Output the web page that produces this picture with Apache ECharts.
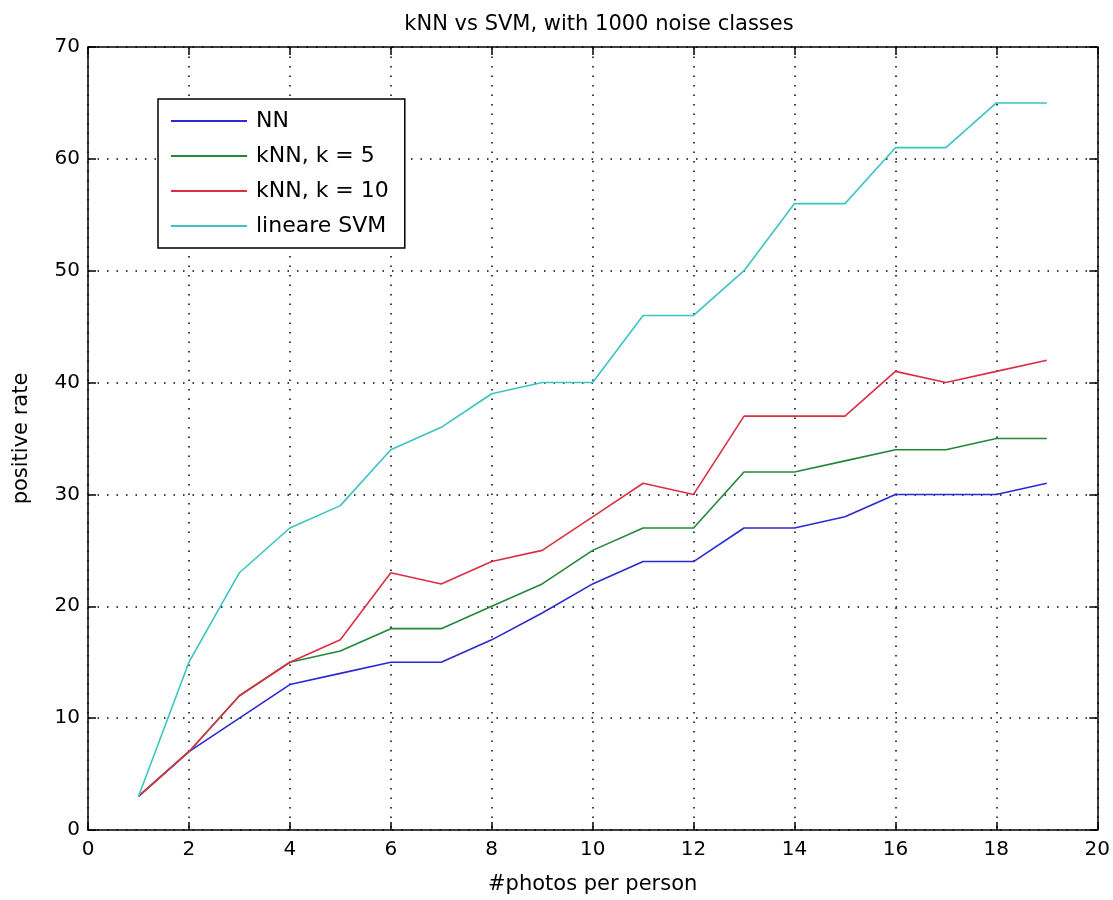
<!DOCTYPE html>
<html>
<head>
<meta charset="utf-8">
<script src="https://cdn.jsdelivr.net/npm/echarts@6/dist/echarts.min.js"></script>
<style>
  html, body { margin: 0; padding: 0; background: #fff; }
  #chart { width: 1113px; height: 900px; }
</style>
</head>
<body>
<div id="chart"></div>
<script>
// photos per person
const photos = [1, 2, 3, 4, 5, 6, 7, 8, 9, 10, 11, 12, 13, 14, 15, 16, 17, 18, 19]

const nn = [3, 7, 10, 13, 14, 15, 15, 17, 19.4, 22, 24, 24, 27, 27, 28, 30, 30, 30, 31]
const knn5 = [3, 7, 12, 15, 16, 18, 18, 20, 22, 25, 27, 27, 32, 32, 33, 34, 34, 35, 35]
const knn10 = [3, 7, 12, 15, 17, 23, 22, 24, 25, 28, 31, 30, 37, 37, 37, 41, 40, 41, 42]
const svm = [3, 15, 23, 27, 29, 34, 36, 39, 40, 40, 46, 46, 50, 56, 56, 61, 61, 65, 65]

const seriesNames = ['NN', 'kNN, k = 5', 'kNN, k = 10', 'lineare SVM']
const colors = ['#2a2ad0', '#23873a', '#dc2f45', '#3cc4c0']

const font = 'DejaVu Sans, Verdana, sans-serif'
const chart = echarts.init(document.getElementById('chart'))

function pairs(vals) {
  return photos.map((x, i) => [x, vals[i]])
}

function makeLine(name, vals, color) {
  return {
    name: name,
    type: 'line',
    data: pairs(vals),
    showSymbol: false,
    symbol: 'none',
    lineStyle: { color: color, width: 1.6 },
    itemStyle: { color: color },
    animation: false
  }
}

const axisText = { color: '#000', fontSize: 20, fontFamily: font }
const splitDots = { show: true, lineStyle: { color: '#000', type: [1.5, 8], width: 1.5 } }
const boxLine = { show: true, onZero: false, lineStyle: { color: '#000', width: 1.5 } }
const inTicks = { show: true, inside: true, length: 8, lineStyle: { color: '#000', width: 1.5 } }

const option = {
  backgroundColor: '#fff',
  animation: false,
  title: {
    text: 'kNN vs SVM, with 1000 noise classes',
    left: 594,
    textAlign: 'center',
    top: 9,
    textStyle: { color: '#000', fontSize: 21, fontWeight: 'normal', fontFamily: font }
  },
  legend: {
    left: 158,
    top: 99,
    orient: 'vertical',
    backgroundColor: '#fff',
    borderColor: '#000',
    borderWidth: 1.5,
    borderRadius: 0,
    padding: [10, 16, 10, 13],
    itemWidth: 76,
    itemHeight: 2,
    itemGap: 11,
    icon: 'rect',
    textStyle: { color: '#000', fontSize: 22, fontFamily: font, lineHeight: 24, padding: [0, 0, 0, 4] },
    data: seriesNames
  },
  grid: { left: 88, right: 13, top: 47, bottom: 70 },
  xAxis: [
    {
      type: 'value',
      min: 0,
      max: 20,
      interval: 2,
      name: '#photos per person',
      nameLocation: 'middle',
      nameGap: 44,
      nameTextStyle: { color: '#000', fontSize: 21, fontFamily: font },
      axisLine: boxLine,
      axisTick: inTicks,
      axisLabel: Object.assign({ margin: 10 }, axisText),
      splitLine: splitDots
    },
    {
      type: 'value',
      position: 'top',
      min: 0,
      max: 20,
      interval: 2,
      axisLine: boxLine,
      axisTick: inTicks,
      axisLabel: { show: false },
      splitLine: { show: false }
    }
  ],
  yAxis: [
    {
      type: 'value',
      min: 0,
      max: 70,
      interval: 10,
      name: 'positive rate',
      nameLocation: 'middle',
      nameGap: 56,
      nameTextStyle: { color: '#000', fontSize: 21, fontFamily: font },
      axisLine: boxLine,
      axisTick: inTicks,
      axisLabel: Object.assign({ margin: 8 }, axisText),
      splitLine: splitDots
    },
    {
      type: 'value',
      position: 'right',
      min: 0,
      max: 70,
      interval: 10,
      axisLine: boxLine,
      axisTick: inTicks,
      axisLabel: { show: false },
      splitLine: { show: false }
    }
  ],
  series: [
    makeLine(seriesNames[0], nn, colors[0]),
    makeLine(seriesNames[1], knn5, colors[1]),
    makeLine(seriesNames[2], knn10, colors[2]),
    makeLine(seriesNames[3], svm, colors[3])
  ]
}

chart.setOption(option)
</script>
</body>
</html>
